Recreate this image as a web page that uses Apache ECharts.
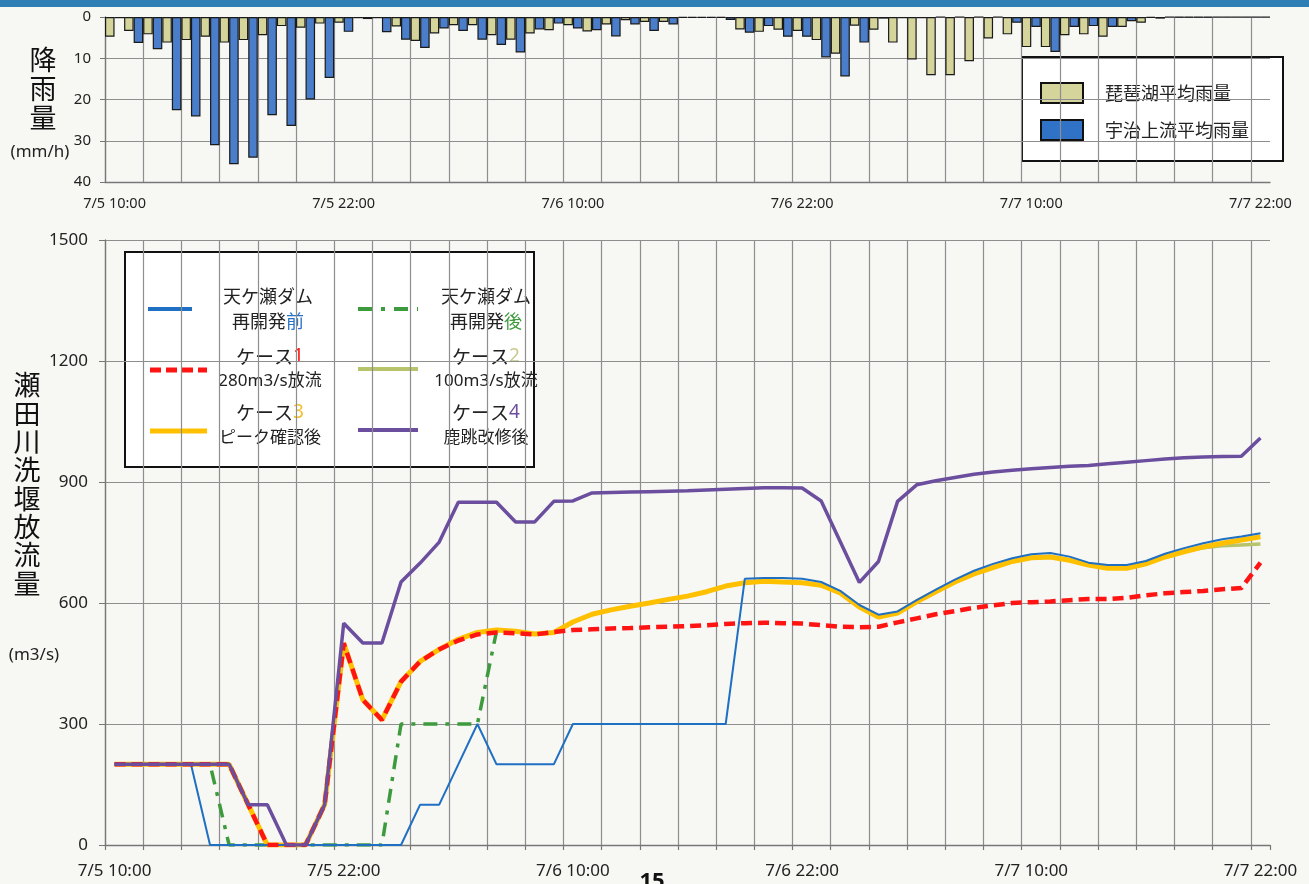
<!DOCTYPE html>
<html><head><meta charset="utf-8">
<script src="https://cdn.jsdelivr.net/npm/echarts@6/dist/echarts.min.js"></script>
<style>html,body{margin:0;padding:0;background:#f7f7f4;}#c{width:1309px;height:884px;}</style>
</head><body><div id="c"></div>
<script>
// ---- categories: hourly, 7/5 10:00 .. 7/7 22:00 ----
const hours = [];
for (let i = 0; i <= 60; i++) {
  const t = 10 + i;
  const d = 5 + Math.floor(t / 24);
  const h = t % 24;
  hours.push('7/' + d + ' ' + (h < 10 ? '0' + h : h) + ':00');
}
const rainTicks = [0, 10, 20, 30, 40];
const flowTicks = [0, 300, 600, 900, 1200, 1500];

// ---- rainfall (mm/h) ----
const rainBiwa = [4.8,3.4,4.2,6.2,5.6,4.8,6.2,5.6,4.4,2.2,2.6,1.6,1.4,0.3,0.3,2.3,5.8,4.0,2.0,2.0,
  4.4,5.5,4.0,3.2,2.0,3.5,1.8,0.8,1.2,1.2,0.2,0.2,0.2,3.0,3.6,3.1,3.4,5.6,8.9,2.1,
  3.1,6.2,10.3,14.1,14.1,10.7,5.2,4.2,7.3,7.3,4.4,4.2,4.8,2.4,1.4,0.4,0.1,0.1,0,0,0];
const rainUji = [0.3,6.3,7.8,22.6,24.1,31.1,35.7,34.1,23.8,26.4,20.0,14.8,3.6,0.5,3.7,5.5,7.5,2.8,3.4,5.5,
  6.8,8.6,3.0,1.6,2.8,3.2,4.7,1.8,3.4,1.8,0.2,0.2,0.7,3.8,2.2,4.8,4.8,9.8,14.4,6.2,
  0.4,0.3,0.3,0,0,0,0,1.4,2.4,8.5,2.4,2.2,2.4,1.0,0.2,0,0.1,0.1,0,0,0];

// ---- discharge (m3/s) ----
const damBefore = [200,200,200,200,200,0,0,0,0,0,0,0,0,0,0,0,100,100,200,300,
  200,200,200,200,300,300,300,300,300,300,300,300,300,660,662,662,660,652,630,595,
  571,579,607,633,658,680,697,711,721,724,715,700,694,694,704,722,736,748,758,765,773];
const damAfter = [200,200,200,200,200,200,0,0,0,0,0,0,0,0,0,300,300,300,300,300,
  530,530,523,527,553,572,583,592,600,609,617,628,642,650,654,652,650,644,625,590,
  565,575,603,628,652,672,688,703,712,714,706,694,686,686,697,714,727,739,748,756,764];
const case1 = [200,200,200,200,200,200,200,100,0,0,0,100,500,360,310,405,455,485,507,522,
  527,525,522,528,533,535,537,538,540,541,543,545,548,550,551,550,549,545,541,540,
  541,552,562,572,580,588,594,600,602,604,607,610,610,613,619,624,627,630,634,637,700];
const case2 = [200,200,200,200,200,200,200,100,0,0,0,100,500,360,310,405,455,485,510,527,
  533,530,523,527,553,572,583,592,600,609,617,628,642,650,654,652,650,644,625,590,
  565,575,603,628,652,672,688,703,712,714,706,694,686,686,697,714,727,737,742,744,746];
const case3 = [200,200,200,200,200,200,200,100,0,0,0,100,500,360,310,405,455,485,510,527,
  533,530,523,527,553,572,583,592,600,609,617,628,642,650,654,652,650,644,625,590,
  565,575,603,628,652,672,688,703,712,714,706,694,686,686,697,714,727,739,748,756,764];
const case4 = [200,200,200,200,200,200,200,100,100,0,0,100,550,501,501,652,699,751,850,850,
  850,801,801,852,853,873,874,875,876,877,878,880,882,884,886,886,885,853,752,651,
  703,852,893,903,911,919,925,929,933,936,939,941,945,949,953,957,960,962,963,964,1009];

const NUM = "'Noto Sans', 'Noto Sans CJK JP', sans-serif";
const JP = "'Noto Sans CJK JP', 'Noto Sans', sans-serif";
const GRID_C = '#8e8e8e';
const AXIS_C = '#777';
const TXT = '#222';

const chart = echarts.init(document.getElementById('c'), null, {renderer: 'canvas'});

function xAxisFor(gi, fs, margin, ticks) {
  return {
    type: 'category', gridIndex: gi, data: hours, boundaryGap: true, position: 'bottom',
    axisLine: {show: true, onZero: false, lineStyle: {color: AXIS_C, width: 1.3}},
    axisTick: {show: ticks, interval: 1, length: 5, lineStyle: {color: AXIS_C, width: 1.2}},
    splitLine: {show: true, interval: 1, showMaxLine: false, lineStyle: {color: GRID_C, width: 1.2}},
    axisLabel: {interval: 11, margin: margin, fontSize: fs, fontFamily: NUM, color: TXT}
  };
}
const plain = v => String(v);

const option = {
  animation: false,
  backgroundColor: '#f7f7f4',
  grid: [
    {left: 105, top: 17, width: 1165, height: 165, outerBoundsMode: 'none'},
    {left: 105, top: 240, width: 1165, height: 605, outerBoundsMode: 'none'}
  ],
  xAxis: [xAxisFor(0, 14.5, 15, false), xAxisFor(1, 17, 18, true)],
  yAxis: [
    {type: 'value', gridIndex: 0, inverse: true, min: rainTicks[0], max: rainTicks[rainTicks.length - 1], interval: 10,
     axisLine: {show: true, lineStyle: {color: AXIS_C, width: 1.3}},
     axisTick: {show: true, length: 5, lineStyle: {color: AXIS_C}},
     splitLine: {show: true, lineStyle: {color: GRID_C, width: 1.2}},
     axisLabel: {fontSize: 15, margin: 14, fontFamily: NUM, color: TXT, formatter: plain}},
    {type: 'value', gridIndex: 1, min: flowTicks[0], max: flowTicks[flowTicks.length - 1], interval: 300,
     axisLine: {show: true, lineStyle: {color: AXIS_C, width: 1.3}},
     axisTick: {show: true, length: 6, lineStyle: {color: AXIS_C}},
     splitLine: {show: true, lineStyle: {color: GRID_C, width: 1.2}},
     axisLabel: {fontSize: 17, margin: 17, fontFamily: NUM, color: TXT, formatter: plain}}
  ],
  series: [
    {name: '琵琶湖平均雨量', type: 'bar', xAxisIndex: 0, yAxisIndex: 0, data: rainBiwa,
     barWidth: '50%', barGap: '0%', barCategoryGap: '0%',
     itemStyle: {color: '#d5d59b', borderColor: '#1a1a1a', borderWidth: 1.2}},
    {name: '宇治上流平均雨量', type: 'bar', xAxisIndex: 0, yAxisIndex: 0, data: rainUji,
     barWidth: '50%', barGap: '0%', barCategoryGap: '0%',
     itemStyle: {color: '#4a7dca', borderColor: '#1a1a1a', borderWidth: 1.2}},
    {name: 'ケース2', type: 'line', xAxisIndex: 1, yAxisIndex: 1, data: case2, symbol: 'none',
     lineStyle: {color: '#b7c46c', width: 3.5}},
    {name: '再開発後', type: 'line', xAxisIndex: 1, yAxisIndex: 1, data: damAfter, symbol: 'none',
     lineStyle: {color: '#3d9b3d', width: 3.5, type: [14, 8, 4, 8]}},
    {name: 'ケース3', type: 'line', xAxisIndex: 1, yAxisIndex: 1, data: case3, symbol: 'none',
     lineStyle: {color: '#ffc000', width: 5}},
    {name: '再開発前', type: 'line', xAxisIndex: 1, yAxisIndex: 1, data: damBefore, symbol: 'none',
     lineStyle: {color: '#1f6fc2', width: 2}},
    {name: 'ケース1', type: 'line', xAxisIndex: 1, yAxisIndex: 1, data: case1, symbol: 'none',
     lineStyle: {color: '#ff1414', width: 4.5, type: [11, 6]}},
    {name: 'ケース4', type: 'line', xAxisIndex: 1, yAxisIndex: 1, data: case4, symbol: 'none',
     lineStyle: {color: '#6b4f9e', width: 3.5}}
  ],
  graphic: [
    {type: 'rect', shape: {x: 0, y: 0, width: 1309, height: 7}, style: {fill: '#2f7fb5'}, silent: true},
    // titles
    {type: 'text', x: 43, y: 45, style: {text: '降\n雨\n量', font: '27px ' + JP, fill: '#111', align: 'center', verticalAlign: 'top', lineHeight: 29}},
    {type: 'text', x: 40, y: 152, style: {text: '(mm/h)', font: '17px ' + NUM, fill: TXT, align: 'center', verticalAlign: 'middle'}},
    {type: 'text', x: 27, y: 371, style: {text: '瀬\n田\n川\n洗\n堰\n放\n流\n量', font: '27px ' + JP, fill: '#111', align: 'center', verticalAlign: 'top', lineHeight: 28.3}},
    {type: 'text', x: 34, y: 655, style: {text: '(m3/s)', font: '17px ' + NUM, fill: TXT, align: 'center', verticalAlign: 'middle'}},
    {type: 'text', x: 652, y: 871, style: {text: '15', font: 'bold 22px ' + NUM, fill: '#111', align: 'center', verticalAlign: 'top'}},
    // rainfall legend
    {type: 'rect', shape: {x: 1022, y: 57, width: 261, height: 104}, style: {fill: '#fff', stroke: '#111', lineWidth: 2}},
    {type: 'rect', shape: {x: 1041, y: 83, width: 42, height: 20}, style: {fill: '#d5d59b', stroke: '#111', lineWidth: 2}},
    {type: 'rect', shape: {x: 1041, y: 120, width: 42, height: 20}, style: {fill: '#2f72c6', stroke: '#111', lineWidth: 2}},
    {type: 'text', x: 1105, y: 93, style: {text: '琵琶湖平均雨量', font: '18px ' + JP, fill: TXT, verticalAlign: 'middle'}},
    {type: 'text', x: 1105, y: 130, style: {text: '宇治上流平均雨量', font: '18px ' + JP, fill: TXT, verticalAlign: 'middle'}},
    // discharge legend
    {type: 'rect', shape: {x: 125, y: 252, width: 409, height: 215}, style: {fill: '#fff', stroke: '#111', lineWidth: 2}},
    {type: 'line', shape: {x1: 148, y1: 309, x2: 192, y2: 309}, style: {stroke: '#1f6fc2', lineWidth: 4}},
    {type: 'line', shape: {x1: 358, y1: 309, x2: 418, y2: 309}, style: {stroke: '#3d9b3d', lineWidth: 4, lineDash: [14, 9, 4, 9]}},
    {type: 'line', shape: {x1: 150, y1: 370, x2: 207, y2: 370}, style: {stroke: '#ff1414', lineWidth: 5, lineDash: [11, 5]}},
    {type: 'line', shape: {x1: 358, y1: 369, x2: 418, y2: 369}, style: {stroke: '#b7c46c', lineWidth: 4}},
    {type: 'line', shape: {x1: 150, y1: 431, x2: 207, y2: 431}, style: {stroke: '#ffc000', lineWidth: 5}},
    {type: 'line', shape: {x1: 358, y1: 430, x2: 418, y2: 430}, style: {stroke: '#6b4f9e', lineWidth: 4}},
    {type: 'text', x: 268, y: 309, style: {text: '天ケ瀬ダム\n再開発{b|前}', font: '18px ' + JP, fill: TXT, align: 'center', verticalAlign: 'middle', lineHeight: 25,
      rich: {b: {fill: '#2a72c8', fontSize: 18, fontFamily: JP, lineHeight: 25}}}},
    {type: 'text', x: 486, y: 309, style: {text: '天ケ瀬ダム\n再開発{g|後}', font: '18px ' + JP, fill: TXT, align: 'center', verticalAlign: 'middle', lineHeight: 25,
      rich: {g: {fill: '#3d9b3d', fontSize: 18, fontFamily: JP, lineHeight: 25}}}},
    {type: 'text', x: 270, y: 369, style: {text: 'ケース{n|1}\n{s|280m3/s放流}', font: '19px ' + JP, fill: TXT, align: 'center', verticalAlign: 'middle', lineHeight: 24,
      rich: {n: {fill: '#ff1414', fontSize: 19, fontFamily: NUM, lineHeight: 24}, s: {fill: TXT, fontSize: 17, fontFamily: NUM, lineHeight: 24}}}},
    {type: 'text', x: 486, y: 369, style: {text: 'ケース{n|2}\n{s|100m3/s放流}', font: '19px ' + JP, fill: TXT, align: 'center', verticalAlign: 'middle', lineHeight: 24,
      rich: {n: {fill: '#c9c98e', fontSize: 19, fontFamily: NUM, lineHeight: 24}, s: {fill: TXT, fontSize: 17, fontFamily: NUM, lineHeight: 24}}}},
    {type: 'text', x: 270, y: 425, style: {text: 'ケース{n|3}\n{s|ピーク確認後}', font: '19px ' + JP, fill: TXT, align: 'center', verticalAlign: 'middle', lineHeight: 24,
      rich: {n: {fill: '#f0c030', fontSize: 19, fontFamily: NUM, lineHeight: 24}, s: {fill: TXT, fontSize: 17, fontFamily: JP, lineHeight: 24}}}},
    {type: 'text', x: 486, y: 425, style: {text: 'ケース{n|4}\n{s|鹿跳改修後}', font: '19px ' + JP, fill: TXT, align: 'center', verticalAlign: 'middle', lineHeight: 24,
      rich: {n: {fill: '#6b4f9e', fontSize: 19, fontFamily: NUM, lineHeight: 24}, s: {fill: TXT, fontSize: 17, fontFamily: JP, lineHeight: 24}}}}
  ]
};
chart.setOption(option);
</script>
</body></html>
